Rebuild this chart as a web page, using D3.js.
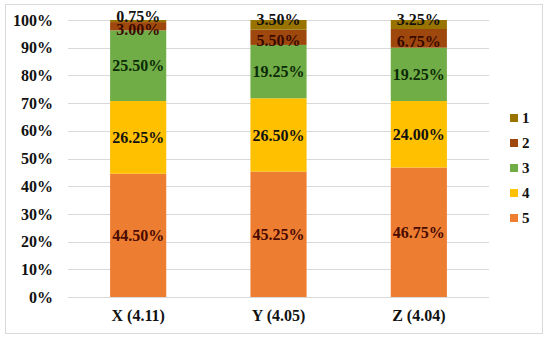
<!DOCTYPE html>
<html>
<head>
<meta charset="utf-8">
<script src="https://cdn.jsdelivr.net/npm/d3@7"></script>
<style>
  body { margin: 0; background: #fff; }
  svg text { font-family: "Liberation Serif", "Times New Roman", serif; font-weight: bold; }
</style>
</head>
<body>
<div id="chart"></div>
<script>
// categories and series (bottom to top in the stack: 5, 4, 3, 2, 1)
const categories = ['X (4.11)', 'Y (4.05)', 'Z (4.04)'];
const seriesNames = ['1', '2', '3', '4', '5'];
const s1 = [0.75, 3.50, 3.25];
const s2 = [3.00, 5.50, 6.75];
const s3 = [25.50, 19.25, 19.25];
const s4 = [26.25, 26.50, 24.00];
const s5 = [44.50, 45.25, 46.75];
const yTicks = [0, 10, 20, 30, 40, 50, 60, 70, 80, 90, 100];

const colors = {
  '1': '#997300',
  '2': '#9e480e',
  '3': '#70ad47',
  '4': '#ffc000',
  '5': '#ed7d31'
};
const labelColors = {
  '1': '#111',
  '2': '#3a0a00',
  '3': '#0b2a06',
  '4': '#111',
  '5': '#4a0a00'
};

const values = { '1': s1, '2': s2, '3': s3, '4': s4, '5': s5 };
const data = categories.map((c, i) => {
  const row = { cat: c };
  seriesNames.forEach((k) => (row[k] = values[k][i]));
  return row;
});
const stackOrder = ['5', '4', '3', '2', '1'];

///////// Layout //////////
const W = 550, H = 339;
const margin = { top: 20, right: 61, bottom: 42, left: 68 };
const width = W - margin.left - margin.right;
const height = H - margin.top - margin.bottom;

const svg = d3.select('#chart').append('svg')
  .attr('width', W)
  .attr('height', H);

// outer frame
svg.append('rect')
  .attr('x', 5.5).attr('y', 4.5)
  .attr('width', 537).attr('height', 329)
  .attr('fill', 'none')
  .attr('stroke', '#d9d9d9');

const g = svg.append('g')
  .attr('transform', 'translate(' + margin.left + ',' + margin.top + ')');

const x = d3.scaleBand().domain(categories).range([0, width])
  .paddingInner(0.6).paddingOuter(0.3);
const y = d3.scaleLinear().domain([0, 100]).range([height, 0]);

// gridlines
g.append('g').selectAll('line')
  .data(yTicks)
  .join('line')
  .attr('x1', 0).attr('x2', width)
  .attr('y1', (d) => Math.round(y(d)) + 0.5)
  .attr('y2', (d) => Math.round(y(d)) + 0.5)
  .attr('stroke', '#d9d9d9');

// y axis labels
const yAxis = d3.axisLeft(y).tickValues(yTicks).tickFormat((d) => d + '%').tickSize(0).tickPadding(15);
g.append('g').call(yAxis)
  .attr('font-family', null)
  .call((a) => a.select('.domain').remove())
  .selectAll('text')
  .attr('font-size', 16)
  .attr('fill', '#111');

// x axis labels
const xAxis = d3.axisBottom(x).tickSize(0).tickPadding(13);
g.append('g').attr('transform', 'translate(0,' + height + ')').call(xAxis)
  .attr('font-family', null)
  .call((a) => a.select('.domain').remove())
  .selectAll('text')
  .attr('font-size', 16)
  .attr('fill', '#111');

// stacked bars
const stacked = d3.stack().keys(stackOrder)(data);

const layers = g.selectAll('.layer')
  .data(stacked)
  .join('g')
  .attr('class', 'layer')
  .attr('fill', (d) => colors[d.key]);

layers.selectAll('rect')
  .data((d) => d)
  .join('rect')
  .attr('x', (d) => x(d.data.cat))
  .attr('width', x.bandwidth())
  .attr('y', (d) => y(d[1]))
  .attr('height', (d) => y(d[0]) - y(d[1]));

// value labels; the two thin top segments get nudged apart like in the original
const nudge = { '1': -5, '2': 3 };
stacked.forEach((layer) => {
  g.append('g').selectAll('text')
    .data(layer)
    .join('text')
    .attr('x', (d) => x(d.data.cat) + x.bandwidth() / 2)
    .attr('y', (d) => y((d[0] + d[1]) / 2) + (nudge[layer.key] || 0))
    .attr('dy', '0.35em')
    .attr('text-anchor', 'middle')
    .attr('font-size', 16)
    .attr('fill', labelColors[layer.key])
    .text((d) => (d[1] - d[0]).toFixed(2) + '%');
});

// legend
const legend = svg.append('g').attr('transform', 'translate(510,118)');
const items = legend.selectAll('g')
  .data(seriesNames)
  .join('g')
  .attr('transform', (d, i) => 'translate(0,' + i * 25 + ')');
items.append('rect')
  .attr('x', 0).attr('y', -4)
  .attr('width', 8).attr('height', 8)
  .attr('fill', (d) => colors[d]);
items.append('text')
  .attr('x', 12).attr('dy', '0.35em')
  .attr('font-size', 15)
  .attr('fill', '#111')
  .text((d) => d);
</script>
</body>
</html>
